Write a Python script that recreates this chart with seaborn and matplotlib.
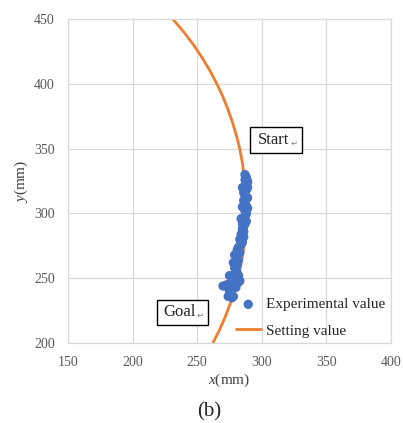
import matplotlib
matplotlib.use("Agg")
import matplotlib.pyplot as plt
from matplotlib.patches import Rectangle
import seaborn as sns
import pandas as pd

# Experimental trajectory (mm)
exp_x = [287, 288, 287, 289, 288, 287, 289, 288, 286, 287, 288, 286, 287, 288, 289,
         287, 288, 287, 286, 288, 287, 286, 285, 286, 284, 285, 283, 285, 284, 282,
         281, 283, 279, 281, 282, 280, 281, 279, 280, 281, 278, 279, 277, 282, 276,
         279, 272, 278, 277, 275, 276, 274, 277,
         289, 285, 289, 285, 288, 284, 285, 280, 278, 270, 273, 276, 278, 280, 283,
         279, 282, 275, 286, 284]
exp_y = [330, 328, 326, 325, 323, 321, 320, 318, 316, 314, 312, 310, 308, 306, 304,
         302, 300, 298, 296, 294, 292, 290, 288, 286, 284, 282, 280, 278, 276, 274,
         272, 270, 268, 266, 264, 262, 260, 258, 256, 254, 252, 250, 248, 247, 246,
         245, 244, 243, 242, 240, 238, 236, 235,
         324, 320, 312, 305, 300, 296, 292, 268, 262, 244, 245, 240, 236, 243, 248,
         250, 252, 252, 282, 278]

# Setting (reference) path (mm)
set_y = [450, 440, 430, 420, 410, 400, 390, 380, 370, 360, 350, 340, 330, 320, 310,
         300, 290, 280, 270, 260, 250, 240, 230, 220, 210, 200]
set_x = [231.0, 239.6, 247.2, 253.9, 259.9, 265.2, 269.9, 273.9, 277.4, 280.4, 282.9,
         284.8, 286.3, 287.3, 287.9, 288.0, 287.6, 286.8, 285.5, 283.7, 281.5, 278.7,
         275.4, 271.6, 267.2, 262.1]

x_ticks = [150, 200, 250, 300, 350, 400]
y_ticks = [200, 250, 300, 350, 400, 450]

sns.set_theme(style="whitegrid")
plt.rcParams['font.family'] = ['Liberation Serif', 'DejaVu Sans']
plt.rcParams['mathtext.fontset'] = 'custom'
plt.rcParams['mathtext.it'] = 'Liberation Serif:italic'
plt.rcParams['mathtext.rm'] = 'Liberation Serif'

fig = plt.figure(figsize=(4.03, 4.23), dpi=100)
ax = fig.add_axes([0.169, 0.189, 0.801, 0.766])

df_exp = pd.DataFrame({"x": exp_x, "y": exp_y})
df_set = pd.DataFrame({"x": set_x, "y": set_y})

sns.scatterplot(data=df_exp, x="x", y="y", ax=ax, color="#4472C4", s=45,
                edgecolor="none", label="Experimental value", zorder=3)
sns.lineplot(data=df_set, x="x", y="y", ax=ax, sort=False, estimator=None,
             color="#ED7D31", linewidth=2, label="Setting value", zorder=2)

ax.set_xlim(150, 400)
ax.set_ylim(200, 450)
ax.set_xticks(x_ticks)
ax.set_yticks(y_ticks)
ax.grid(True, color="#D9D9D9", linewidth=0.9)
for s in ax.spines.values():
    s.set_color("#D9D9D9")
    s.set_linewidth(0.9)
ax.tick_params(axis="both", length=0, labelsize=10, labelcolor="#595959", pad=9.5)

ax.set_xlabel(r"$x$(mm)", fontsize=11, color="#404040", labelpad=2)
ax.set_ylabel(r"$y$(mm)", fontsize=11, color="#404040", labelpad=3)

leg = ax.legend(loc="upper left", bbox_to_anchor=(0.5, 0.159), frameon=False,
                fontsize=11, handlelength=1.65, handletextpad=0.35,
                labelspacing=0.82, borderaxespad=0)
for t in leg.get_texts():
    t.set_color("#262626")

# Start / Goal labels in boxes
ax.add_patch(Rectangle((290.9, 346.6), 40.2, 20.1, facecolor="white",
                       edgecolor="black", linewidth=1, zorder=5))
ax.text(309.4, 356.6, "Start", fontsize=12, ha="center", va="center", zorder=6)
ax.text(325.0, 354.0, "\u21b5", fontsize=6, ha="center", va="center",
        color="#808080", zorder=6)

ax.add_patch(Rectangle((218.9, 213.9), 39.5, 19.3, facecolor="white",
                       edgecolor="black", linewidth=1, zorder=5))
ax.text(236.7, 223.9, "Goal", fontsize=12, ha="center", va="center", zorder=6)
ax.text(252.2, 221.0, "\u21b5", fontsize=6, ha="center", va="center",
        color="#808080", zorder=6)

fig.text(0.52, 0.026, "(b)", fontsize=15, ha="center", va="center", color="#262626")

fig.savefig("out.png", dpi=100)
